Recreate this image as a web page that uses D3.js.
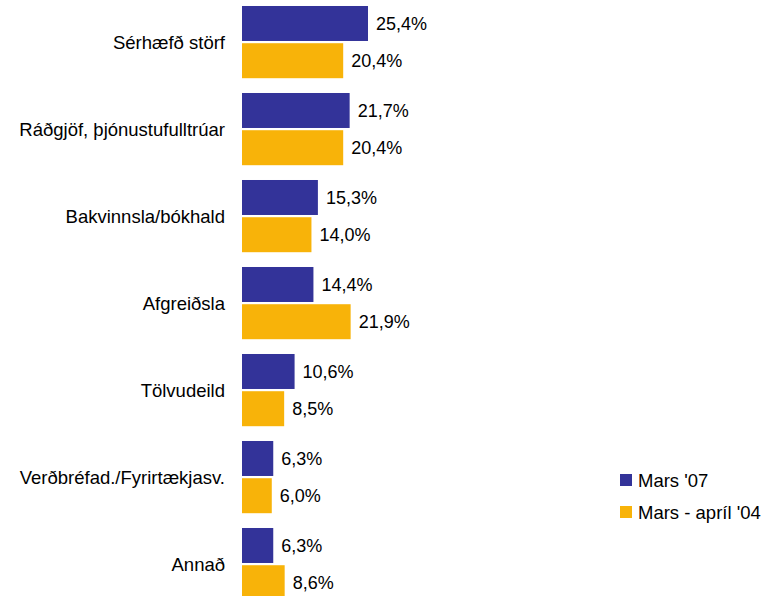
<!DOCTYPE html>
<html>
<head>
<meta charset="utf-8">
<script src="https://cdn.jsdelivr.net/npm/d3@7"></script>
<style>
  body { margin: 0; background: #fff; }
  text { font-family: "Liberation Sans", Arial, sans-serif; }
</style>
</head>
<body>
<div id="chart"></div>
<script>
// categories and values (percent)
var categories = ["Sérhæfð störf", "Ráðgjöf, þjónustufulltrúar", "Bakvinnsla/bókhald", "Afgreiðsla", "Tölvudeild", "Verðbréfad./Fyrirtækjasv.", "Annað"]
var series = ["Mars '07", "Mars - apríl '04"]
var mars07 = [25.4, 21.7, 15.3, 14.4, 10.6, 6.3, 6.3]
var mars04 = [20.4, 20.4, 14.0, 21.9, 8.5, 6.0, 8.6]
var colors = ["#333399", "#F8B309"]

var width = 773
var height = 596

var svg = d3.select("#chart").append("svg").attr("width", width).attr("height", height)

var x = d3.scaleLinear().domain([0, 25.4]).range([242, 368])

// outer band per category, inner band per series
var y = d3.scaleBand().domain(categories).range([-1.4, 607.6]).paddingInner(0.17).paddingOuter(0.085)
var ySub = d3.scaleBand().domain(series).range([0, y.bandwidth()]).paddingInner(0.06)

var rows = categories.map(function(c, i) {
  return { cat: c, vals: [mars07[i], mars04[i]] }
})

var g = svg.selectAll(".group")
  .data(rows)
  .enter().append("g")
  .attr("class", "group")
  .attr("transform", function(d) { return "translate(0," + y(d.cat) + ")" })

g.selectAll("rect")
  .data(function(d) { return d.vals.map(function(v, j) { return { s: series[j], v: v, j: j } }) })
  .enter().append("rect")
  .attr("x", x(0))
  .attr("y", function(d) { return ySub(d.s) })
  .attr("width", function(d) { return x(d.v) - x(0) })
  .attr("height", ySub.bandwidth())
  .attr("fill", function(d) { return colors[d.j] })

g.selectAll(".val")
  .data(function(d) { return d.vals.map(function(v, j) { return { s: series[j], v: v } }) })
  .enter().append("text")
  .attr("class", "val")
  .attr("x", function(d) { return x(d.v) + 8 })
  .attr("y", function(d) { return ySub(d.s) + ySub.bandwidth() / 2 })
  .attr("dy", "0.36em")
  .attr("font-size", "18px")
  .attr("fill", "#000")
  .text(function(d) { return d3.format(".1f")(d.v).replace(".", ",") + "%" })

// category labels
g.append("text")
  .attr("x", 225)
  .attr("y", y.bandwidth() / 2)
  .attr("dy", "0.36em")
  .attr("text-anchor", "end")
  .attr("font-size", "18.5px")
  .attr("fill", "#000")
  .text(function(d) { return d.cat })

// legend
var legend = svg.append("g").attr("transform", "translate(620,474)")
var li = legend.selectAll("g").data(series).enter().append("g")
  .attr("transform", function(d, i) { return "translate(0," + i * 32 + ")" })
li.append("rect").attr("width", 12).attr("height", 12)
  .attr("fill", function(d, i) { return colors[i] })
li.append("text").attr("x", 18).attr("y", 6).attr("dy", "0.36em")
  .attr("font-size", "18.5px").attr("fill", "#000")
  .text(function(d) { return d })
</script>
</body>
</html>
